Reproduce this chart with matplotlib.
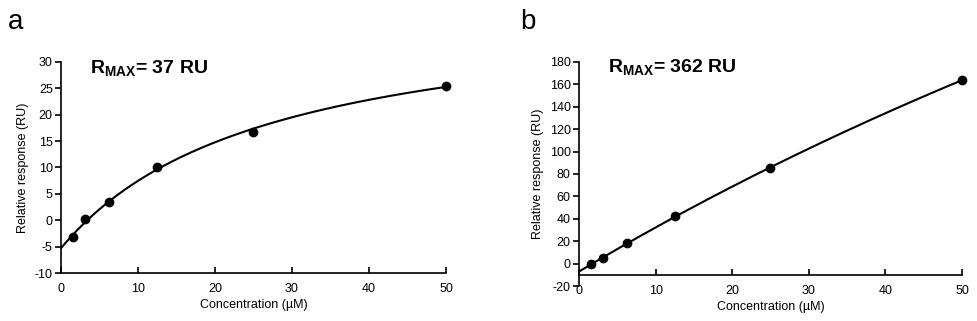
import numpy as np
import matplotlib.pyplot as plt

plt.rcParams['font.family'] = ['Liberation Sans', 'DejaVu Sans']
plt.rcParams['axes.unicode_minus'] = False
plt.rcParams['mathtext.fontset'] = 'custom'
plt.rcParams['mathtext.rm'] = 'Liberation Sans'
plt.rcParams['mathtext.bf'] = 'Liberation Sans:bold'

# concentrations (uM) and responses (RU)
conc = [1.5625, 3.125, 6.25, 12.5, 25, 50]
resp_a = [-3.2, 0.2, 3.5, 10.0, 16.8, 25.5]
resp_b = [-0.6, 4.7, 18.1, 42.8, 85.1, 163.9]
rmax_a = "37"
rmax_b = "362"


def fit_binding(x, y):
    # y = A*x/(K+x) + c, grid over K, linear least squares for A and c
    x = np.asarray(x, float)
    y = np.asarray(y, float)
    best = None
    for K in np.linspace(1, 2000, 20000):
        M = np.column_stack([x / (K + x), np.ones_like(x)])
        coef, *_ = np.linalg.lstsq(M, y, rcond=None)
        err = np.sum((M @ coef - y) ** 2)
        if best is None or err < best[0]:
            best = (err, K, coef)
    _, K, (A, c) = best
    return lambda t: A * t / (K + t) + c


fig = plt.figure(figsize=(9.78, 3.21), dpi=100)
ax_a = fig.add_axes([0.0624, 0.1495, 0.3936, 0.6575])
ax_b = fig.add_axes([0.592, 0.109, 0.3916, 0.698])

panels = [
    (ax_a, resp_a, rmax_a, (-10, 30), 5, -10, 'a'),
    (ax_b, resp_b, rmax_b, (-20, 180), 20, -10, 'b'),
]

t = np.linspace(0, 50, 300)
for ax, resp, rmax, ylim, ystep, xcross, letter in panels:
    f = fit_binding(conc, resp)
    ax.plot(t, f(t), color='black', lw=1.5, zorder=2)
    ax.plot(conc, resp, 'o', color='black', ms=6, zorder=3, clip_on=False)
    ax.set_xlim(0, 50)
    ax.set_ylim(*ylim)
    ax.set_xticks(range(0, 51, 10))
    ax.set_yticks(np.arange(ylim[0], ylim[1] + 1, ystep))
    ax.spines['top'].set_visible(False)
    ax.spines['right'].set_visible(False)
    ax.spines['bottom'].set_position(('data', xcross))
    for s in ('left', 'bottom'):
        ax.spines[s].set_linewidth(1.2)
    ax.tick_params(axis='x', direction='in', length=4, width=1.2, labelsize=9, pad=7)
    ax.tick_params(axis='y', direction='out', length=4, width=1.2, labelsize=9, pad=2)
    ax.set_xlabel('Concentration (\u00b5M)', fontsize=9, labelpad=3)
    ax.set_ylabel('Relative response (RU)', fontsize=9, labelpad=4)
    ax.text(0.075, 1.02, r'$\mathbf{R_{MAX}}$' + '= ' + rmax + ' RU', transform=ax.transAxes,
            fontsize=14, fontweight='bold', va='top', ha='left')

fig.text(0.008, 0.93, 'a', fontsize=20, va='center', ha='left')
fig.text(0.532, 0.93, 'b', fontsize=20, va='center', ha='left')

fig.savefig('out.png', dpi=100)
